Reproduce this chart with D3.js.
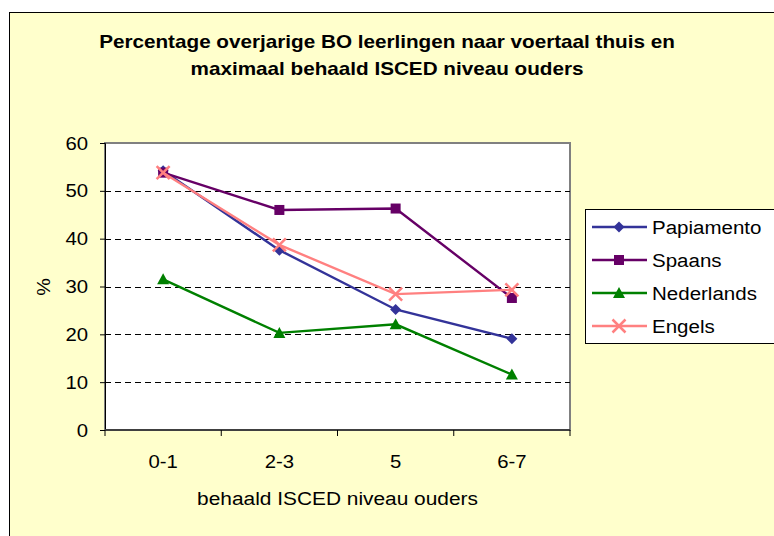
<!DOCTYPE html>
<html>
<head>
<meta charset="utf-8">
<script src="https://cdn.jsdelivr.net/npm/d3@7"></script>
<style>
  body { margin: 0; background: #fff; }
  text { font-family: "Liberation Sans", Arial, sans-serif; fill: #000; }
</style>
</head>
<body>
<div id="chart"></div>
<script>
// categories and series
var categories = ["0-1", "2-3", "5", "6-7"];
var seriesNames = ["Papiamento", "Spaans", "Nederlands", "Engels"];
var papiamento = [54.2, 37.6, 25.2, 19.1];
var spaans = [53.8, 46.0, 46.3, 27.6];
var nederlands = [31.5, 20.3, 22.1, 11.6];
var engels = [53.8, 38.7, 28.4, 29.3];
var yTicks = [0, 10, 20, 30, 40, 50, 60];

var w = 774, h = 536;
var colors = ["#333399", "#660066", "#008000", "#FF8080"];
var shapes = ["diamond", "square", "triangle", "cross"];
var allSeries = [papiamento, spaans, nederlands, engels];

var svg = d3.select("#chart").append("svg")
    .attr("width", w).attr("height", h);

// text that is a bit wider than the font normally is (like the original)
function wideText(parent, x, y, str, size, anchor, sx, bold) {
    var g = parent.append("g")
        .attr("transform", "translate(" + x + "," + y + ") scale(" + sx + ",1)");
    var t = g.append("text")
        .attr("text-anchor", anchor).attr("font-size", size)
        .text(str);
    if (bold) t.attr("font-weight", "bold");
    return g;
}

// chart area background
svg.append("rect")
    .attr("x", 9.5).attr("y", 12.5)
    .attr("width", w + 10).attr("height", h + 10)
    .attr("fill", "#FFFFCC").attr("stroke", "#000").attr("stroke-width", 1);

// title
wideText(svg, 387, 48, "Percentage overjarige BO leerlingen naar voertaal thuis en", 18, "middle", 1.15, true);
wideText(svg, 387, 75, "maximaal behaald ISCED niveau ouders", 18, "middle", 1.15, true);

var plot = { left: 105, top: 143, right: 570, bottom: 430 };

var x = d3.scaleBand().domain(categories).range([plot.left, plot.right]);
var y = d3.scaleLinear().domain([0, 60]).range([plot.bottom, plot.top]);

// plot area
svg.append("rect")
    .attr("x", plot.left).attr("y", plot.top)
    .attr("width", plot.right - plot.left).attr("height", plot.bottom - plot.top)
    .attr("fill", "#fff").attr("stroke", "#808080").attr("stroke-width", 2);

// gridlines
svg.append("g").selectAll("line")
    .data(yTicks.filter(function (d) { return d > 0 && d < 60; }))
    .enter().append("line")
    .attr("x1", plot.left).attr("x2", plot.right)
    .attr("y1", function (d) { return Math.round(y(d)) + 0.5; })
    .attr("y2", function (d) { return Math.round(y(d)) + 0.5; })
    .attr("stroke", "#000").attr("stroke-dasharray", "6,4");

// y axis
var yAxis = svg.append("g")
    .attr("transform", "translate(" + plot.left + ",0)")
    .call(d3.axisLeft(y).tickValues(yTicks).tickSize(5).tickFormat(""));
yAxis.select(".domain").attr("stroke", "#000").attr("stroke-width", 1);
yTicks.forEach(function (t) {
    wideText(svg, 88, y(t) + 6.5, String(t), 18, "end", 1.13, false);
});

// x axis with ticks at category boundaries
var xAxisG = svg.append("g");
xAxisG.append("line")
    .attr("x1", plot.left).attr("x2", plot.right)
    .attr("y1", plot.bottom).attr("y2", plot.bottom)
    .attr("stroke", "#404040").attr("stroke-width", 2);
var bounds = categories.map(function (c) { return x(c); }).concat([x(categories[3]) + x.bandwidth()]);
xAxisG.selectAll("line.tick").data(bounds).enter().append("line")
    .attr("class", "tick")
    .attr("x1", function (d) { return d; }).attr("x2", function (d) { return d; })
    .attr("y1", plot.bottom).attr("y2", plot.bottom + 6)
    .attr("stroke", "#000");
categories.forEach(function (c) {
    wideText(xAxisG, x(c) + x.bandwidth() / 2, 468, c, 18, "middle", 1.13, false);
});

// axis titles
wideText(svg, (plot.left + plot.right) / 2, 505, "behaald ISCED niveau ouders", 18, "middle", 1.16, false);
svg.append("text")
    .attr("transform", "translate(50,287) rotate(-90) scale(1.1,1)")
    .attr("text-anchor", "middle").attr("font-size", 18)
    .text("%");

// marker drawing
function drawMarker(g, shape, color) {
    if (shape === "diamond") {
        g.append("path").attr("d", "M0,-5.5L5.5,0L0,5.5L-5.5,0Z").attr("fill", color);
    } else if (shape === "square") {
        g.append("rect").attr("x", -5).attr("y", -5).attr("width", 10).attr("height", 10).attr("fill", color);
    } else if (shape === "triangle") {
        g.append("path").attr("d", "M0,-6L6,5L-6,5Z").attr("fill", color);
    } else {
        g.append("path").attr("d", "M-6.5,-6.5L6.5,6.5M-6.5,6.5L6.5,-6.5")
            .attr("stroke", color).attr("stroke-width", 2.5).attr("fill", "none");
    }
}

var line = d3.line()
    .x(function (d, i) { return x(categories[i]) + x.bandwidth() / 2; })
    .y(function (d) { return y(d); });

allSeries.forEach(function (vals, s) {
    svg.append("path").datum(vals)
        .attr("d", line).attr("fill", "none")
        .attr("stroke", colors[s]).attr("stroke-width", 2.4);
    vals.forEach(function (v, i) {
        var g = svg.append("g")
            .attr("transform", "translate(" + (x(categories[i]) + x.bandwidth() / 2) + "," + y(v) + ")");
        drawMarker(g, shapes[s], colors[s]);
    });
});

// legend
var legend = svg.append("g");
legend.append("rect")
    .attr("x", 585.5).attr("y", 209.5).attr("width", 190).attr("height", 134)
    .attr("fill", "#fff").attr("stroke", "#000");
seriesNames.forEach(function (name, s) {
    var ly = 227 + s * 33;
    legend.append("line").attr("x1", 592).attr("x2", 647).attr("y1", ly).attr("y2", ly)
        .attr("stroke", colors[s]).attr("stroke-width", 2.4);
    drawMarker(legend.append("g").attr("transform", "translate(619," + ly + ")"), shapes[s], colors[s]);
    wideText(legend, 652, ly + 7, name, 19, "start", 1.08, false);
});
</script>
</body>
</html>
